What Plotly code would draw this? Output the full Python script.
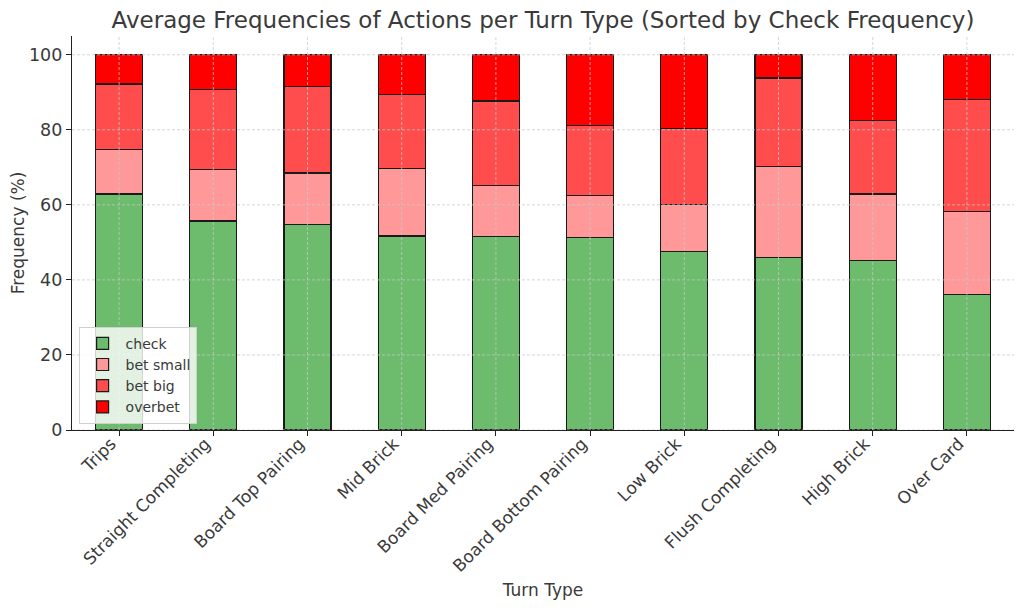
import plotly.graph_objects as go

categories = ["Trips", "Straight Completing", "Board Top Pairing", "Mid Brick",
              "Board Med Pairing", "Board Bottom Pairing", "Low Brick",
              "Flush Completing", "High Brick", "Over Card"]
check = [62.9, 55.7, 54.8, 51.7, 51.6, 51.2, 47.6, 46.0, 45.1, 36.1]
bet_small = [11.8, 13.7, 13.7, 18.0, 13.6, 11.3, 12.4, 24.2, 17.8, 22.2]
bet_big = [17.5, 21.4, 23.1, 19.8, 22.5, 18.7, 20.4, 23.6, 19.6, 29.7]
overbet = [7.8, 9.2, 8.4, 10.5, 12.3, 18.8, 19.6, 6.2, 17.5, 12.0]
y_ticks = [0, 20, 40, 60, 80, 100]

series = [("check", check, "#6dbb6d"), ("bet small", bet_small, "#ff9999"),
          ("bet big", bet_big, "#ff4c4c"), ("overbet", overbet, "#ff0000")]

FONT = "DejaVu Sans"
TXT = "#3a3a3a"
GRID = "rgba(200,200,200,0.75)"

fig = go.Figure()
for name, vals, col in series:
    fig.add_trace(go.Bar(x=list(range(len(categories))), y=vals, name=name,
                         marker=dict(color=col, line=dict(color="#1a1a1a", width=1.2)),
                         width=0.5))

shapes = []
for v in y_ticks:
    shapes.append(dict(type="line", xref="paper", yref="y", x0=0, x1=1, y0=v, y1=v,
                       line=dict(color=GRID, width=1, dash="3px,2px"),
                       layer="above"))
for i in range(len(categories)):
    shapes.append(dict(type="line", xref="x", yref="paper", x0=i, x1=i, y0=0, y1=1,
                       line=dict(color=GRID, width=1, dash="3px,2px"),
                       layer="above"))

fig.update_layout(
    width=1024, height=611,
    margin=dict(l=64, r=18, t=28, b=189, autoexpand=False),
    paper_bgcolor="white", plot_bgcolor="white",
    barmode="stack", bargap=0.5,
    font=dict(family=FONT, color=TXT, size=17),
    title=dict(text="Average Frequencies of Actions per Turn Type (Sorted by Check Frequency)",
               x=0.5, xref="paper", xanchor="center", yref="container",
               y=1 - 12 / 611, yanchor="middle",
               font=dict(size=23, color=TXT)),
    shapes=shapes,
    showlegend=True,
    legend=dict(x=0.007, y=0.016, xanchor="left", yanchor="bottom",
                traceorder="normal", bgcolor="rgba(255,255,255,0.8)",
                bordercolor="#d0d0d0", borderwidth=1,
                font=dict(size=14, color=TXT), itemwidth=36,
                tracegroupgap=0),
    xaxis=dict(tickmode="array", tickvals=list(range(len(categories))), ticktext=categories,
               tickangle=-45, range=[-0.5, 9.5], showgrid=False, automargin=False,
               showline=True, linecolor="#222", linewidth=1.3,
               ticks="outside", ticklen=5, tickcolor="#222",
               ticklabelshift=-8, ticklabelstandoff=-9,
               title=dict(text="Turn Type", font=dict(size=17, color=TXT), standoff=9),
               tickfont=dict(size=17, color=TXT), zeroline=False),
    yaxis=dict(range=[0, 105], tickvals=y_ticks, showgrid=False, automargin=False,
               showline=True, linecolor="#222", linewidth=1.3,
               ticks="outside", ticklen=5, tickcolor="#222",
               title=dict(text="Frequency (%)", font=dict(size=17, color=TXT), standoff=10),
               tickfont=dict(size=17.5, color=TXT), zeroline=False),
)

fig.write_html("out.html")
